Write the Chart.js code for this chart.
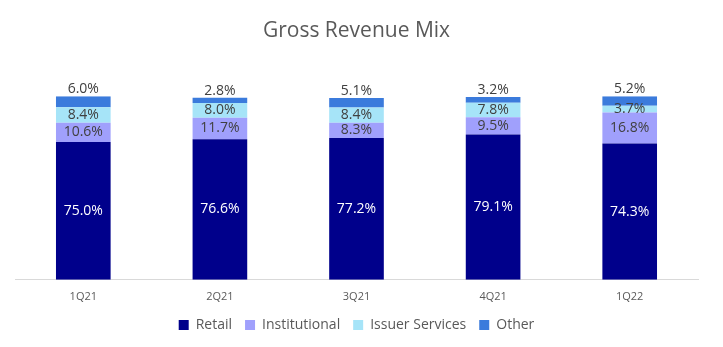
<!DOCTYPE html>
<html>
<head>
<meta charset="utf-8">
<script src="https://cdn.jsdelivr.net/npm/chart.js@4.4.1/dist/chart.umd.min.js"></script>
<style>
  html, body { margin: 0; padding: 0; background: #fff; }
  #wrap { width: 723px; height: 347px; }
</style>
</head>
<body>
<div id="wrap"><canvas id="mixChart" width="723" height="347"></canvas></div>
<script>
// quarters and revenue share per business line (%)
var quarters = ['1Q21', '2Q21', '3Q21', '4Q21', '1Q22'];
var retail = [75.0, 76.6, 77.2, 79.1, 74.3];
var institutional = [10.6, 11.7, 8.3, 9.5, 16.8];
var issuerServices = [8.4, 8.0, 8.4, 7.8, 3.7];
var other = [6.0, 2.8, 5.1, 3.2, 5.2];

var seriesNames = ['Retail', 'Institutional', 'Issuer Services', 'Other'];
var seriesColors = ['#00008b', '#a0a0fc', '#a6e4f8', '#3b7bdc'];
var labelColors = ['#ffffff', '#404040', '#404040', '#404040'];

var FONT = "'Open Sans', 'Noto Sans', sans-serif";

// percentage labels drawn on each segment; the thin "Other" slice gets its label above the bar
var segmentLabels = {
  id: 'segmentLabels',
  afterDatasetsDraw: function (chart) {
    var ctx = chart.ctx;
    ctx.save();
    ctx.textAlign = 'center';
    ctx.textBaseline = 'middle';
    ctx.font = '14px ' + FONT;
    chart.data.datasets.forEach(function (ds, di) {
      var meta = chart.getDatasetMeta(di);
      meta.data.forEach(function (bar, i) {
        var txt = ds.data[i].toFixed(1) + '%';
        var y = (bar.y + bar.base) / 2;
        if (di === 3) y = bar.y - 7;
        ctx.fillStyle = labelColors[di];
        ctx.fillText(txt, bar.x, y);
      });
    });
    ctx.restore();
  }
};

var datasets = [retail, institutional, issuerServices, other].map(function (vals, i) {
  return {
    label: seriesNames[i],
    data: vals,
    backgroundColor: seriesColors[i],
    borderWidth: 0,
    categoryPercentage: 1.0,
    barPercentage: 0.4
  };
});

var ctx = document.getElementById('mixChart').getContext('2d');
var chart = new Chart(ctx, {
  type: 'bar',
  data: {
    labels: quarters,
    datasets: datasets
  },
  options: {
    responsive: false,
    animation: false,
    layout: {
      padding: { left: 15, right: 25, top: 0, bottom: 5 }
    },
    scales: {
      x: {
        stacked: true,
        grid: { display: false, drawTicks: false },
        border: { display: true, color: '#d9d9d9', width: 1 },
        ticks: {
          color: '#595959',
          padding: 10,
          font: { family: FONT, size: 11 }
        },
        // tighten the gap between the quarter labels and the legend
        afterFit: function (scale) {
          scale.height -= 8;
        }
      },
      y: {
        stacked: true,
        display: false,
        min: 0,
        max: 100
      }
    },
    plugins: {
      title: {
        display: true,
        text: 'Gross Revenue Mix',
        color: '#595959',
        font: { family: FONT, size: 21, weight: 'normal' },
        padding: { top: 18, bottom: 53 }
      },
      legend: {
        position: 'bottom',
        labels: {
          color: '#595959',
          boxWidth: 10,
          boxHeight: 10,
          padding: 13,
          font: { family: FONT, size: 14 }
        }
      },
      tooltip: { enabled: false }
    }
  },
  plugins: [segmentLabels]
});
</script>
</body>
</html>
